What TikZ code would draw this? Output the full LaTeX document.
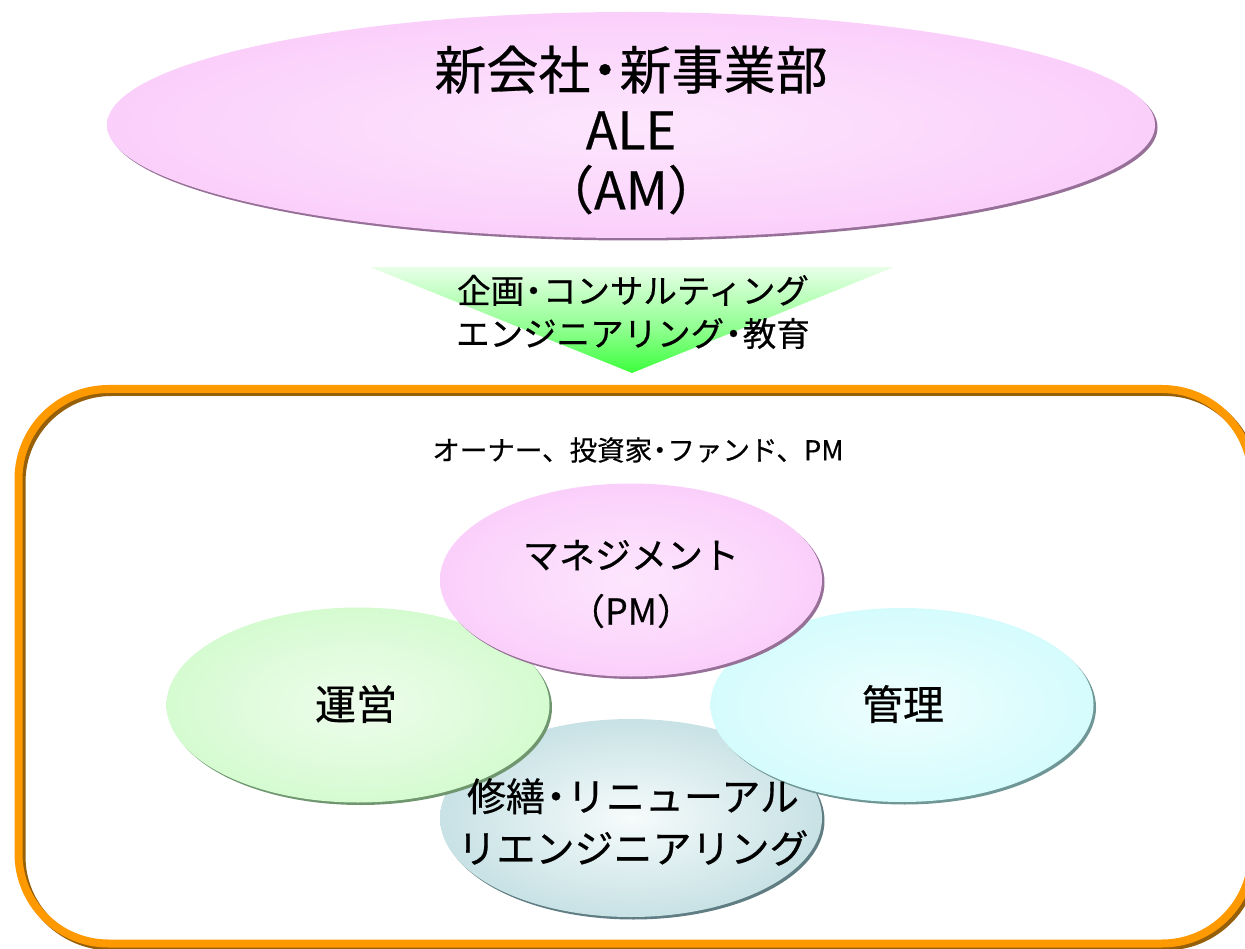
\documentclass[tikz,border=0pt]{standalone}
\usepackage{fontspec}
\setmainfont{Noto Sans CJK JP}[FakeBold=0.5]
\usetikzlibrary{shapes.geometric,shadows}
\definecolor{pinkc}{RGB}{249,196,250}
\definecolor{pinkin}{RGB}{253,230,253}
\definecolor{pinksh}{RGB}{150,112,150}
\definecolor{greenc}{RGB}{198,249,192}
\definecolor{greenin}{RGB}{238,253,236}
\definecolor{greensh}{RGB}{112,150,112}
\definecolor{cyanc}{RGB}{198,250,252}
\definecolor{cyanin}{RGB}{238,254,254}
\definecolor{cyansh}{RGB}{112,150,150}
\definecolor{bluec}{RGB}{168,208,214}
\definecolor{bluein}{RGB}{246,251,251}
\definecolor{bluesh}{RGB}{95,125,130}
\definecolor{orangec}{RGB}{255,153,0}
\definecolor{orangesh}{RGB}{150,95,10}
\definecolor{arrowg}{RGB}{0,255,0}
\definecolor{arrowm}{RGB}{140,255,140}
\definecolor{arrowl}{RGB}{232,255,232}
\pgfdeclareradialshading{pinkrad}{\pgfpoint{0bp}{0bp}}{color(0bp)=(pinkin); color(38bp)=(pinkc); color(50bp)=(pinkc)}
\pgfdeclareradialshading{greenrad}{\pgfpoint{0bp}{0bp}}{color(0bp)=(greenin); color(40bp)=(greenc); color(50bp)=(greenc)}
\pgfdeclareradialshading{cyanrad}{\pgfpoint{0bp}{0bp}}{color(0bp)=(cyanin); color(40bp)=(cyanc); color(50bp)=(cyanc)}
\pgfdeclareradialshading{bluerad}{\pgfpoint{0bp}{0bp}}{color(0bp)=(bluein); color(42bp)=(bluec); color(50bp)=(bluec)}
\pgfdeclareverticalshading{arrowshade}{100bp}{color(0bp)=(arrowg); color(10bp)=(arrowg); color(45bp)=(arrowm); color(75bp)=(arrowl); color(100bp)=(white)}
\newcommand{\mdot}{\kern-0.22em・\kern-0.22em}
\tikzset{
  oval/.style={ellipse, inner sep=0pt, shade, draw=none},
  sh/.style={drop shadow={shadow xshift=2.5pt, shadow yshift=-2.5pt, fill=#1, opacity=1}},
  lbl/.style={align=center, text=black}
}
\begin{document}
\begin{tikzpicture}[x=1pt,y=1pt]
\useasboundingbox (0,0) rectangle (1245,-949);
% top ellipse
\node[oval, shading=pinkrad, sh=pinksh, minimum width=1048pt, minimum height=226pt] (top) at (631,-125) {};
\node[lbl, font=\fontsize{52}{60}\selectfont] (toptext) at (631,-130) {新会社\mdot 新事業部\\ALE\\（AM）};
% arrow
\coordinate (al) at (370,-267);
\coordinate (ar) at (894,-267);
\coordinate (at) at (632,-373);
\shade[shading=arrowshade] (al) -- (ar) -- (at) -- cycle;
\node[lbl, font=\fontsize{33.5}{43}\selectfont] (arrowtext) at (633,-312) {企画\mdot コンサルティング\\エンジニアリング\mdot 教育};
% frame
\draw[line width=8pt, orangesh, rounded corners=90pt] (21.5,-392) rectangle (1255,-946.5);
\draw[line width=8pt, orangec, rounded corners=90pt] (18.5,-389) rectangle (1252,-943.5);
\node[lbl, font=\fontsize{27.5}{30}\selectfont] (owners) at (638,-450) {オーナー、投資家\mdot ファンド、PM};
% ellipses
\node[oval, shading=bluerad, sh=bluesh, minimum width=382pt, minimum height=198pt] (rep) at (631,-818) {};
\node[oval, shading=greenrad, sh=greensh, minimum width=383pt, minimum height=195pt] (ops) at (358,-705) {};
\node[oval, shading=cyanrad, sh=cyansh, minimum width=383pt, minimum height=194pt] (mgt) at (902,-705) {};
\node[oval, shading=pinkrad, sh=pinksh, minimum width=382pt, minimum height=193pt] (pm) at (631,-580) {};
\node[lbl, font=\fontsize{36}{56}\selectfont] (pmtext) at (631,-584) {マネジメント\\（PM）};
\node[lbl, font=\fontsize{41}{48}\selectfont] (opstext) at (356,-704) {運営};
\node[lbl, font=\fontsize{41}{48}\selectfont] (mgttext) at (903,-704) {管理};
\node[lbl, font=\fontsize{39}{52}\selectfont] (reptext) at (633,-822) {修繕\mdot リニューアル\\リエンジニアリング};
\end{tikzpicture}
\end{document}
